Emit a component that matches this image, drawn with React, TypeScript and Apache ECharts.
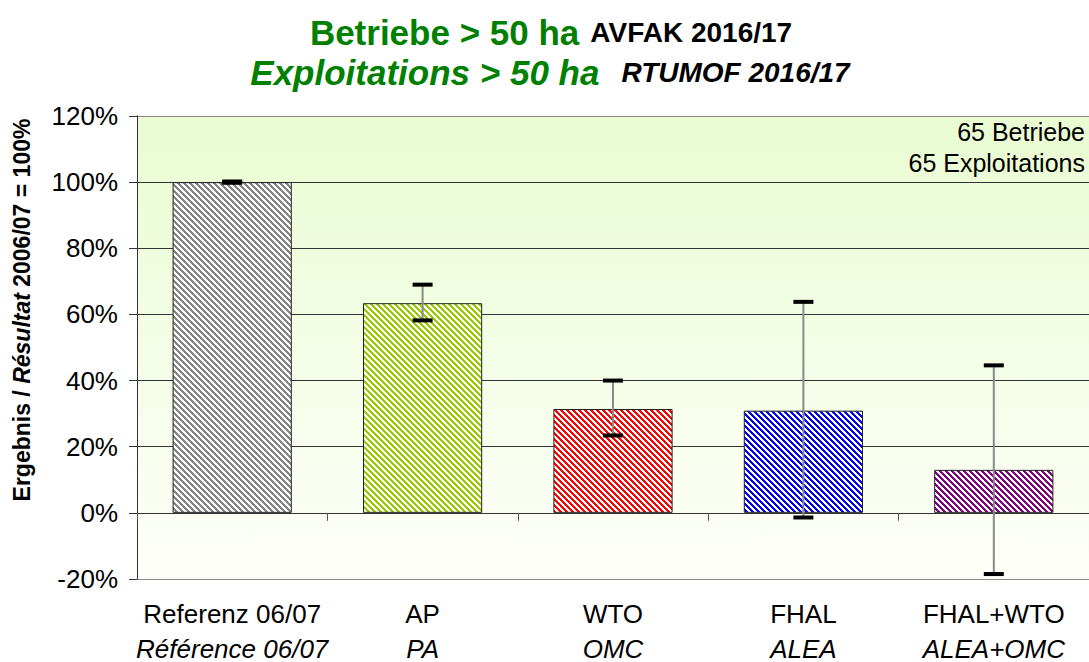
import React, { useEffect, useRef } from "react";
import * as echarts from "echarts";

const categoriesDe = ["Referenz 06/07", "AP", "WTO", "FHAL", "FHAL+WTO"];
const categoriesFr = ["Référence 06/07", "PA", "OMC", "ALEA", "ALEA+OMC"];
const barValues = [100, 63.4, 31.4, 30.9, 13.0];
const errorLow = [99.8, 58.2, 23.4, -1.4, -18.5];
const errorHigh = [100.2, 69.0, 40.0, 63.8, 44.6];
const stripeColors = ["#858585", "#99CC00", "#FF0000", "#0000FF", "#800080"];
const yTicks = { min: -20, max: 120, interval: 20 };

const FONT = "'Liberation Sans', Arial, sans-serif";

function makeStripe(color: string) {
  const n = 6;
  const c = document.createElement("canvas");
  c.width = n;
  c.height = n;
  const ctx = c.getContext("2d")!;
  ctx.fillStyle = "#ffffff";
  ctx.fillRect(0, 0, n, n);
  ctx.fillStyle = color;
  for (let x = 0; x < n; x++) {
    for (let y = 0; y < n; y++) {
      if ((x - y + n * 2) % n < 3) ctx.fillRect(x, y, 1, 1);
    }
  }
  return c;
}

export default function App() {
  const ref = useRef<HTMLDivElement>(null);
  useEffect(() => {
    if (!ref.current) return;
    const chart = echarts.init(ref.current, undefined, { renderer: "svg" });
    const barData = barValues.map((v, i) => ({
      value: v,
      itemStyle: {
        color: { image: makeStripe(stripeColors[i]), repeat: "repeat" },
        borderColor: "#222",
        borderWidth: 1,
      },
    }));
    const errData = barValues.map((_, i) => [i, errorLow[i], errorHigh[i]]);
    chart.setOption({
      animation: false,
      grid: {
        left: 137,
        top: 116,
        width: 963,
        height: 463,
        show: true,
        borderWidth: 0,
        backgroundColor: new echarts.graphic.LinearGradient(0, 0, 0, 1, [
          { offset: 0, color: "#E9FCD2" },
          { offset: 1, color: "#FEFFF9" },
        ]),
      },
      graphic: [
        {
          type: "text",
          x: 551,
          y: 32,
          style: {
            text: "{a|Betriebe > 50 ha}{b|AVFAK 2016/17}",
            align: "center",
            verticalAlign: "middle",
            rich: {
              a: { fontFamily: FONT, fontWeight: "bold", fontSize: 35, fill: "#008000" },
              b: { fontFamily: FONT, fontWeight: "bold", fontSize: 28, fill: "#000", padding: [0, 0, 0, 11] },
            },
          },
        },
        {
          type: "text",
          x: 550,
          y: 72,
          style: {
            text: "{a|Exploitations > 50 ha}{b|RTUMOF 2016/17}",
            align: "center",
            verticalAlign: "middle",
            rich: {
              a: { fontFamily: FONT, fontWeight: "bold", fontStyle: "italic", fontSize: 35, fill: "#008000" },
              b: { fontFamily: FONT, fontWeight: "bold", fontStyle: "italic", fontSize: 28, fill: "#000", padding: [0, 0, 0, 22] },
            },
          },
        },
        {
          type: "text",
          x: 22,
          y: 310,
          rotation: Math.PI / 2,
          style: {
            text: "{a|Ergebnis / }{b|Résultat}{a| 2006/07 = 100%}",
            align: "center",
            verticalAlign: "middle",
            rich: {
              a: { fontFamily: FONT, fontWeight: "bold", fontSize: 23, fill: "#000" },
              b: { fontFamily: FONT, fontWeight: "bold", fontStyle: "italic", fontSize: 23, fill: "#000" },
            },
          },
        },
        {
          type: "text",
          x: 1085,
          y: 116,
          style: {
            text: "65 Betriebe\n65 Exploitations",
            align: "right",
            verticalAlign: "top",
            lineHeight: 31,
            fontFamily: FONT,
            fontSize: 25,
            fill: "#000",
          },
        },
      ],
      xAxis: [
        {
          type: "category",
          data: categoriesDe,
          gridIndex: 0,
          axisLine: { onZero: true, lineStyle: { color: "#333", width: 1 } },
          axisTick: { show: true, length: 8, lineStyle: { color: "#555" } },
          axisLabel: { show: false },
          splitLine: { show: false },
        },
        {
          type: "category",
          data: categoriesDe,
          gridIndex: 0,
          position: "bottom",
          axisLine: { show: false, onZero: false },
          axisTick: { show: false },
          splitLine: { show: false },
          axisLabel: {
            margin: 17,
            formatter: (_v: string, i: number) => `{a|${categoriesDe[i]}}\n{b|${categoriesFr[i]}}`,
            rich: {
              a: { fontFamily: FONT, fontSize: 26, color: "#000", lineHeight: 35 },
              b: { fontFamily: FONT, fontSize: 26, fontStyle: "italic", color: "#000", lineHeight: 35 },
            },
          },
        },
      ],
      yAxis: {
        type: "value",
        min: yTicks.min,
        max: yTicks.max,
        interval: yTicks.interval,
        axisLine: { show: true, lineStyle: { color: "#333" } },
        axisTick: { show: true, length: 8, lineStyle: { color: "#333" } },
        axisLabel: {
          margin: 19,
          formatter: "{value}%",
          fontFamily: FONT,
          fontSize: 26,
          color: "#000",
        },
        splitLine: {
          show: true,
          lineStyle: {
            color: ["#8a8a8a", "#333", "#333", "#333", "#333", "#333", "#333", "#8a8a8a"],
            width: 1,
          },
        },
      },
      series: [
        {
          type: "bar",
          xAxisIndex: 0,
          data: barData,
          barWidth: "62.6%",
        },
        {
          type: "custom",
          xAxisIndex: 0,
          data: errData,
          encode: { x: 0, y: [1, 2] },
          z: 10,
          renderItem: (_params: any, api: any) => {
            const lo = api.coord([api.value(0), api.value(1)]);
            const hi = api.coord([api.value(0), api.value(2)]);
            return {
              type: "group",
              children: [
                {
                  type: "line",
                  shape: { x1: lo[0], y1: lo[1], x2: hi[0], y2: hi[1] },
                  style: { stroke: "#8a8a8a", lineWidth: 2 },
                },
                {
                  type: "rect",
                  shape: { x: hi[0] - 10, y: hi[1] - 2, width: 20, height: 4 },
                  style: { fill: "#000" },
                },
                {
                  type: "rect",
                  shape: { x: lo[0] - 10, y: lo[1] - 2, width: 20, height: 4 },
                  style: { fill: "#000" },
                },
              ],
            };
          },
        },
      ],
    });
    return () => chart.dispose();
  }, []);
  return (
    <div
      ref={ref}
      style={{ position: "fixed", left: 0, top: 0, width: 1089, height: 662, background: "#fff" }}
    />
  );
}
